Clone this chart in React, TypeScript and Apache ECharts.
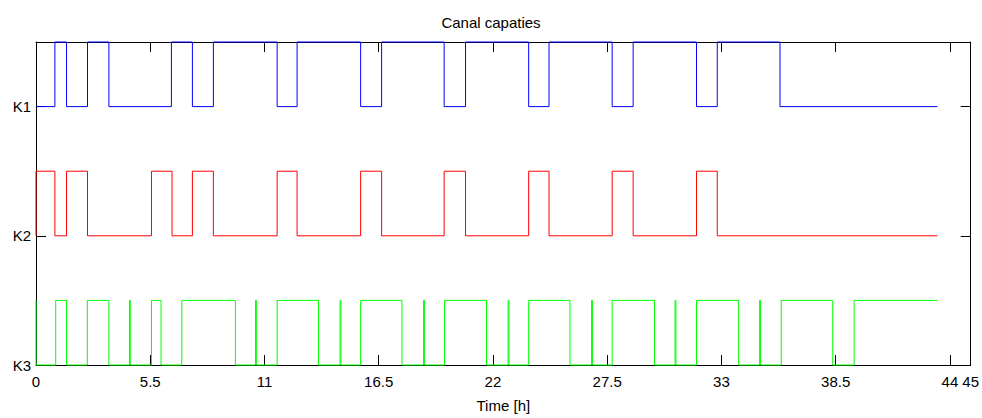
import React, { useEffect, useRef } from "react";
import * as echarts from "echarts";

const xTickStep = 5.5;
const xMax = 45;
const yTickValues = [0, 2, 4];
const yTickLabels: Record<number, string> = { 0: "K3", 2: "K2", 4: "K1" };

// switch times [h] and on/off state from that time on
const k1Times = [0, 0.91, 1.47, 2.48, 3.51, 6.52, 7.53, 8.54, 11.61, 12.57, 15.63, 16.64, 19.65, 20.68, 23.72, 24.7, 27.74, 28.75, 31.8, 32.8, 35.82, 43.4];
const k1States = [0, 1, 0, 1, 0, 1, 0, 1, 0, 1, 0, 1, 0, 1, 0, 1, 0, 1, 0, 1, 0, 0];

const k2Times = [0, 0, 0.91, 1.47, 2.48, 5.56, 6.55, 7.53, 8.54, 11.61, 12.57, 15.63, 16.64, 19.65, 20.68, 23.72, 24.7, 27.74, 28.75, 31.8, 32.8, 43.4];
const k2States = [0, 1, 0, 1, 0, 1, 0, 1, 0, 1, 0, 1, 0, 1, 0, 1, 0, 1, 0, 1, 0, 0];

const k3Times = [0, 0, 0.95, 1.47, 2.47, 3.51, 4.5, 4.54, 5.56, 6.02, 7.02, 9.6, 10.57, 10.61, 11.61, 13.6, 14.64, 14.68, 15.63, 17.62, 18.66, 18.7, 19.67, 21.69, 22.73, 22.77, 23.72, 25.71, 26.75, 26.79, 27.74, 29.78, 30.77, 30.81, 31.8, 33.83, 34.84, 34.88, 35.88, 38.36, 39.39, 43.4];
const k3States = [1, 0, 1, 0, 1, 0, 1, 0, 1, 0, 1, 0, 1, 0, 1, 0, 1, 0, 1, 0, 1, 0, 1, 0, 1, 0, 1, 0, 1, 0, 1, 0, 1, 0, 1, 0, 1, 0, 1, 0, 1, 1];

const seriesDefs = [
  { name: "K1", times: k1Times, states: k1States, base: 4, color: "#0000ff" },
  { name: "K2", times: k2Times, states: k2States, base: 2, color: "#ff0000" },
  { name: "K3", times: k3Times, states: k3States, base: 0, color: "#00ff00" },
];

const FONT = "'Liberation Sans', Arial, sans-serif";

export default function App() {
  const ref = useRef<HTMLDivElement>(null);
  useEffect(() => {
    if (!ref.current) return;
    const chart = echarts.init(ref.current, undefined, { renderer: "svg" });
    const axisLine = { show: true, onZero: false, lineStyle: { color: "#000", width: 1 } };
    const tick = { show: true, inside: true, length: 10, lineStyle: { color: "#000", width: 1 } };
    chart.setOption({
      animation: false,
      backgroundColor: "#fff",
      title: {
        text: "Canal capaties",
        left: "center",
        top: 10,
        textStyle: { fontFamily: FONT, fontSize: 15, fontWeight: "normal", color: "#000" },
      },
      grid: { left: 36, right: 9, top: 42, bottom: 51, containLabel: false },
      xAxis: [
        {
          type: "value",
          min: 0,
          max: xMax,
          interval: xTickStep,
          position: "bottom",
          name: "Time [h]",
          nameLocation: "middle",
          nameGap: 33,
          nameTextStyle: { fontFamily: FONT, fontSize: 15, color: "#000" },
          axisLine,
          axisTick: tick,
          splitLine: { show: false },
          axisLabel: {
            fontFamily: FONT,
            fontSize: 15,
            color: "#000",
            margin: 9,
            showMaxLabel: true,
            formatter: (v: number) => String(Math.round(v * 10) / 10),
          },
        },
        {
          type: "value",
          min: 0,
          max: xMax,
          interval: xTickStep,
          position: "top",
          axisLine,
          axisTick: tick,
          splitLine: { show: false },
          axisLabel: { show: false },
        },
      ],
      yAxis: [
        {
          type: "value",
          min: 0,
          max: 5,
          position: "left",
          axisLine,
          axisTick: { ...tick, customValues: yTickValues },
          splitLine: { show: false },
          axisLabel: {
            customValues: yTickValues,
            fontFamily: FONT,
            fontSize: 15,
            color: "#000",
            margin: 5,
            formatter: (v: number) => yTickLabels[v] ?? "",
          },
        },
        {
          type: "value",
          min: 0,
          max: 5,
          position: "right",
          axisLine,
          axisTick: { ...tick, customValues: yTickValues },
          splitLine: { show: false },
          axisLabel: { show: false },
        },
      ],
      series: seriesDefs.map((s) => ({
        name: s.name,
        type: "line",
        step: "end",
        xAxisIndex: 0,
        yAxisIndex: 0,
        symbol: "none",
        showSymbol: false,
        clip: false,
        lineStyle: { color: s.color, width: 1 },
        itemStyle: { color: s.color },
        data: s.times.map((t, i) => [t, s.base + s.states[i]]),
      })),
    });
    return () => chart.dispose();
  }, []);
  return <div ref={ref} style={{ position: "absolute", left: 0, top: 0, width: 982, height: 418 }} />;
}
